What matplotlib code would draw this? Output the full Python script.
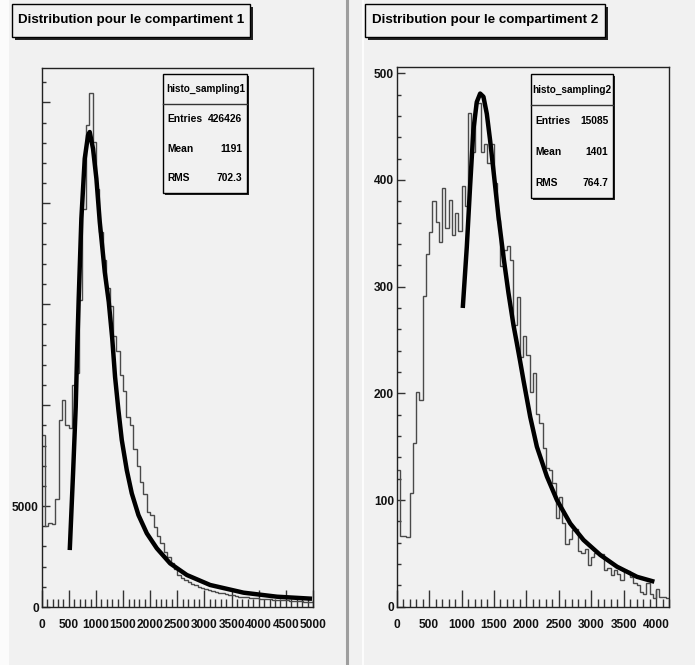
import numpy as np
import matplotlib
matplotlib.use("Agg")
import matplotlib.pyplot as plt
from matplotlib.patches import Rectangle
from matplotlib.ticker import MultipleLocator

# ---------------- data ----------------
titles = ["Distribution pour le compartiment 1", "Distribution pour le compartiment 2"]
stat_names = ["histo_sampling1", "histo_sampling2"]
entries = ["426426", "15085"]
means = ["1191", "1401"]
rms = ["702.3", "764.7"]

# left histogram: 80 bins of 62.5 over 0..5000
h1_lo, h1_hi, h1_nbins = 0, 5000, 80
h1_counts = [8500, 4000, 4150, 4100, 5350, 9250, 10250, 9000, 8850, 11000,
             11600, 15200, 19700, 23900, 25450, 23050, 20700, 18600, 17200, 15800,
             14900, 13400, 12700, 11500, 10700, 9400, 9000, 7850, 7000, 6200,
             5600, 4700, 4550, 3950, 3500, 3150, 2700, 2480, 2200, 1900,
             1600, 1420, 1350, 1250, 1150, 1080, 1000, 940, 880, 830,
             790, 740, 700, 670, 640, 600, 580, 550, 520, 500,
             490, 470, 450, 440, 420, 410, 395, 380, 370, 360,
             350, 335, 325, 310, 300, 290, 280, 270, 262, 255]
fit1_x = [517, 578, 627, 657, 682, 731, 793, 854, 885, 946, 1008, 1070, 1162, 1236,
          1300, 1352, 1414, 1476, 1568, 1660, 1783, 1937, 2122, 2367, 2675, 3105,
          3720, 4336, 4982]
fit1_y = [2820, 6620, 9915, 13000, 15280, 19240, 22210, 23370, 23530, 22700, 21220,
          19075, 16600, 15110, 13300, 11400, 9750, 8270, 6780, 5630, 4555, 3650, 2905,
          2160, 1585, 1090, 710, 510, 410]

# right histogram: 84 bins of 50 over 0..4200
h2_lo, h2_hi, h2_nbins = 0, 4200, 84
h2_counts = [128, 66, 66, 65, 107, 153, 201, 194, 291, 331,
             351, 380, 361, 342, 392, 355, 381, 348, 369, 352,
             394, 376, 463, 426, 472, 472, 426, 434, 416, 434,
             397, 362, 319, 334, 338, 325, 264, 290, 234, 254,
             236, 201, 219, 181, 172, 149, 130, 128, 116, 83,
             103, 78, 59, 63, 72, 73, 52, 50, 54, 39,
             47, 50, 49, 49, 34, 36, 30, 34, 31, 25,
             34, 33, 28, 22, 20, 14, 12, 22, 12, 8,
             17, 9, 9, 8]
fit2_x = [1019, 1081, 1132, 1183, 1235, 1287, 1338, 1390, 1441, 1503, 1569, 1647,
          1724, 1801, 1853, 1904, 1956, 2059, 2162, 2317, 2471, 2677, 2882, 3140,
          3398, 3707, 3974]
fit2_y = [280, 337, 394, 447, 473, 481, 478, 462, 437, 403, 366, 328,
          294, 264, 247, 230, 212, 178, 150, 122, 100, 78, 62.5, 48.5,
          37.5, 28, 23.4]

# ---------------- layout ----------------
W, H = 695, 665
BG = "#f1f1f1"
fig = plt.figure(figsize=(W / 100, H / 100), dpi=100, facecolor=BG)
FONT = "Liberation Sans"


def fx(px):
    return px / W


def fy(py):
    return 1 - py / H


def box(x0, y0, x1, y1, shadow=3, zorder=5):
    fig.patches.append(Rectangle((fx(x0 + shadow), fy(y1 + shadow)), fx(x1 - x0), (y1 - y0) / H,
                                 transform=fig.transFigure, facecolor="#222222",
                                 edgecolor="none", zorder=zorder))
    fig.patches.append(Rectangle((fx(x0), fy(y1)), fx(x1 - x0), (y1 - y0) / H,
                                 transform=fig.transFigure, facecolor=BG,
                                 edgecolor="black", lw=1, zorder=zorder + 0.1))


# window edges and pad separator
fig.patches.append(Rectangle((0, 0), fx(9), 1, transform=fig.transFigure,
                             facecolor="#fbfbfb", edgecolor="none", zorder=0))
fig.add_artist(plt.Line2D([fx(346.5), fx(346.5)], [0, 1], color="#9e9e9e", lw=2.2,
                          transform=fig.transFigure))
fig.add_artist(plt.Line2D([fx(363), fx(363)], [0, 1], color="white", lw=1.2,
                          transform=fig.transFigure))

panels = [
    dict(ax=(41.7, 68, 313, 607), counts=h1_counts, lo=h1_lo, hi=h1_hi, n=h1_nbins,
         fx_=fit1_x, fy_=fit1_y, ylim=26700, xmaj=500, xmin=100, ymaj=5000, ymin=1000,
         ylabels={0: "0", 5000: "5000"}, xticks=range(0, 5001, 500),
         title=(12, 4, 250, 37), stat=(163.3, 74, 247.3, 193.3, 104)),
    dict(ax=(396.7, 67.3, 669, 606.7), counts=h2_counts, lo=h2_lo, hi=h2_hi, n=h2_nbins,
         fx_=fit2_x, fy_=fit2_y, ylim=505.6, xmaj=500, xmin=100, ymaj=100, ymin=20,
         ylabels={v: str(v) for v in range(0, 501, 100)}, xticks=range(0, 4001, 500),
         title=(365, 4, 605, 37), stat=(531, 74, 613.3, 198.3, 105)),
]

for i, p in enumerate(panels):
    x0, y0, x1, y1 = p["ax"]
    ax = fig.add_axes([fx(x0), fy(y1), fx(x1 - x0), (y1 - y0) / H])
    ax.set_facecolor(BG)
    edges = np.linspace(p["lo"], p["hi"], p["n"] + 1)
    ax.stairs(p["counts"], edges, color="#4a4a4a", lw=1.0, baseline=None, zorder=2)
    ax.plot(p["fx_"], p["fy_"], color="black", lw=3.2, solid_capstyle="butt", zorder=3)
    ax.set_xlim(p["lo"], p["hi"])
    ax.set_ylim(0, p["ylim"])
    for s in ax.spines.values():
        s.set_color("#222222")
        s.set_linewidth(1.0)
    ax.xaxis.set_major_locator(plt.FixedLocator(list(p["xticks"])))
    ax.xaxis.set_minor_locator(MultipleLocator(p["xmin"]))
    ax.yaxis.set_major_locator(MultipleLocator(p["ymaj"]))
    ax.yaxis.set_minor_locator(MultipleLocator(p["ymin"]))
    ax.tick_params(axis="x", which="major", direction="in", length=12, width=1,
                   color="#333333", pad=9)
    ax.tick_params(axis="x", which="minor", direction="in", length=6, width=1, color="#333333")
    ax.tick_params(axis="y", which="major", direction="in", length=6, width=1,
                   color="#333333", pad=2)
    ax.tick_params(axis="y", which="minor", direction="in", length=3, width=1, color="#333333")
    ax.set_xticklabels([str(v) for v in p["xticks"]], fontfamily=FONT, fontweight="bold",
                       fontsize=8.6, color="#111111")
    yt = ax.get_yticks()
    ax.set_yticks(yt)
    ax.set_yticklabels([p["ylabels"].get(int(v), "") for v in yt], fontfamily=FONT,
                       fontweight="bold", fontsize=8.6, color="#111111")
    ax.set_ylim(0, p["ylim"])

    # title box
    tx0, ty0, tx1, ty1 = p["title"]
    box(tx0, ty0, tx1, ty1, shadow=3)
    fig.text(fx((tx0 + tx1) / 2), fy((ty0 + ty1) / 2), titles[i], ha="center", va="center",
             fontfamily=FONT, fontweight="bold", fontsize=9.6, zorder=10)

    # stats box
    sx0, sy0, sx1, sy1, sep = p["stat"]
    box(sx0, sy0, sx1, sy1, shadow=2)
    fig.add_artist(plt.Line2D([fx(sx0), fx(sx1)], [fy(sep), fy(sep)], color="#333333",
                              lw=1, transform=fig.transFigure, zorder=10))
    fig.text(fx((sx0 + sx1) / 2), fy((sy0 + sep) / 2), stat_names[i], ha="center",
             va="center", fontfamily=FONT, fontweight="bold", fontsize=7.2, zorder=10)
    rows = [("Entries", entries[i]), ("Mean", means[i]), ("RMS", rms[i])]
    step = (sy1 - sep) / 3
    for j, (lab, val) in enumerate(rows):
        yy = sep + step * (j + 0.5)
        fig.text(fx(sx0 + 4), fy(yy), lab, ha="left", va="center", fontfamily=FONT,
                 fontweight="bold", fontsize=7.4, zorder=10)
        fig.text(fx(sx1 - 5), fy(yy), val, ha="right", va="center", fontfamily=FONT,
                 fontweight="bold", fontsize=7.4, zorder=10)

fig.savefig("out.png", dpi=100, facecolor=BG)
